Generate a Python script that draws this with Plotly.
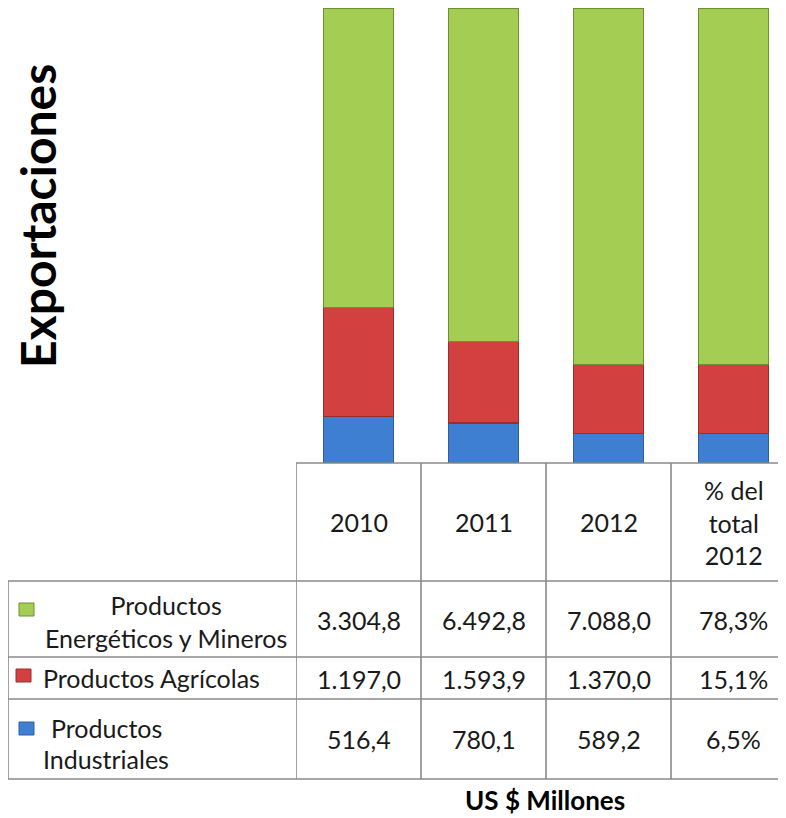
import plotly.graph_objects as go

# ---------------- data ----------------
columns = ["2010", "2011", "2012", "% del total 2012"]
header_labels = ["2010", "2011", "2012", "% del<br>total<br>2012"]
series_names = ["Productos Industriales", "Productos Agrícolas", "Productos Energéticos y Mineros"]
industriales = [516.4, 780.1, 589.2]
agricolas = [1197.0, 1593.9, 1370.0]
energeticos = [3304.8, 6492.8, 7088.0]
pct_2012 = {"ind": 6.5, "agr": 15.1, "ene": 78.3}
row_text_ene = ["3.304,8", "6.492,8", "7.088,0", "78,3%"]
row_text_agr = ["1.197,0", "1.593,9", "1.370,0", "15,1%"]
row_text_ind = ["516,4", "780,1", "589,2", "6,5%"]

colors = {"ind": "#3f7fd2", "agr": "#d24040", "ene": "#a4cd54"}
edge = {"ind": "#2f5f9f", "agr": "#9a2e2e", "ene": "#6f8f33"}

# shares (100% stacked)
totals = [a + b + c for a, b, c in zip(industriales, agricolas, energeticos)]
sh_ind = [v / t * 100 for v, t in zip(industriales, totals)] + [pct_2012["ind"]]
sh_agr = [v / t * 100 for v, t in zip(agricolas, totals)] + [pct_2012["agr"]]
sh_ene = [100 - a - b for a, b in zip(sh_ind, sh_agr)]

W, H = 786, 818
OFF = 8  # page body margin
FONT = "Lato, Calibri, sans-serif"


def px(x):
    return (x - OFF) / W


def py(y):
    return 1 - (y - OFF) / H


fig = go.Figure()
for key, vals, name in [("ind", sh_ind, series_names[0]),
                        ("agr", sh_agr, series_names[1]),
                        ("ene", sh_ene, series_names[2])]:
    fig.add_trace(go.Bar(
        x=columns, y=vals, name=name, width=0.56,
        marker=dict(color=colors[key], line=dict(color=edge[key], width=1.2)),
        hoverinfo="skip",
    ))

# axis geometry: table columns are 125px wide starting at x=296
x0_px, col_w = 296, 125
span = (W + OFF - x0_px) / col_w
y_top, y_bot = 8, 463

fig.update_layout(
    width=W, height=H, barmode="stack", showlegend=False,
    margin=dict(l=0, r=0, t=0, b=0),
    paper_bgcolor="white", plot_bgcolor="white",
    xaxis=dict(domain=[px(x0_px), 1], range=[-0.5, -0.5 + span], visible=False,
               type="category", categoryorder="array", categoryarray=columns),
    yaxis=dict(domain=[py(y_bot), py(y_top)], range=[0, 100], visible=False),
    font=dict(family=FONT, color="#1a1a1a"),
)

LC = "#8a8a8a"
LW = 1.6
shapes = []
shapes.append(dict(type="line", xref="paper", yref="paper", x0=px(x0_px), x1=1,
                   y0=py(463), y1=py(463), line=dict(color=LC, width=LW)))
for yy in [581, 657, 699, 779]:
    shapes.append(dict(type="line", xref="paper", yref="paper", x0=px(8), x1=1,
                       y0=py(yy), y1=py(yy), line=dict(color=LC, width=LW)))
shapes.append(dict(type="line", xref="paper", yref="paper", x0=px(8), x1=px(8),
                   y0=py(581), y1=py(779), line=dict(color=LC, width=LW)))
for xv in [-0.5, 0.5, 1.5, 2.5]:
    shapes.append(dict(type="line", xref="x", yref="paper", x0=xv, x1=xv,
                       y0=py(463), y1=py(779), line=dict(color=LC, width=LW)))

# legend keys in the table
for key, (mx, my) in [("ene", (19, 603)), ("agr", (16, 669)), ("ind", (19, 722))]:
    shapes.append(dict(type="rect", xref="paper", yref="paper",
                       x0=px(mx), x1=px(mx + 15), y0=py(my + 13), y1=py(my),
                       fillcolor=colors[key], line=dict(color=edge[key], width=1)))
fig.update_layout(shapes=shapes)

ann = []
FS = 25
for i, lab in enumerate(header_labels):
    ann.append(dict(x=i, y=py(522), xref="x", yref="paper", text=lab, showarrow=False,
                    font=dict(size=FS), align="center", xanchor="center", yanchor="middle"))
for row, yy in [(row_text_ene, 620), (row_text_agr, 679), (row_text_ind, 739)]:
    for i, t in enumerate(row):
        ann.append(dict(x=i, y=py(yy), xref="x", yref="paper", text=t, showarrow=False,
                        font=dict(size=FS), xanchor="center", yanchor="middle"))
# row labels
ann.append(dict(x=px(166), y=py(621), xref="paper", yref="paper",
                text="Productos<br>Energéticos y Mineros", showarrow=False,
                font=dict(size=FS), align="center", xanchor="center", yanchor="middle"))
ann.append(dict(x=px(41), y=py(678), xref="paper", yref="paper",
                text="Productos Agrícolas", showarrow=False,
                font=dict(size=FS), xanchor="left", yanchor="middle"))
ann.append(dict(x=px(49), y=py(728), xref="paper", yref="paper",
                text="Productos", showarrow=False,
                font=dict(size=FS), xanchor="left", yanchor="middle"))
ann.append(dict(x=px(41), y=py(759), xref="paper", yref="paper",
                text="Industriales", showarrow=False,
                font=dict(size=FS), xanchor="left", yanchor="middle"))
# titles
ann.append(dict(x=px(37), y=py(216), xref="paper", yref="paper",
                text="<b>Exportaciones</b>", showarrow=False, textangle=-90,
                font=dict(size=48, color="#000000"), xanchor="center", yanchor="middle"))
ann.append(dict(x=px(545), y=py(800), xref="paper", yref="paper",
                text="<b>US $ Millones</b>", showarrow=False,
                font=dict(size=26, color="#000000"), xanchor="center", yanchor="middle"))
fig.update_layout(annotations=ann)

fig.write_html("out.html")
